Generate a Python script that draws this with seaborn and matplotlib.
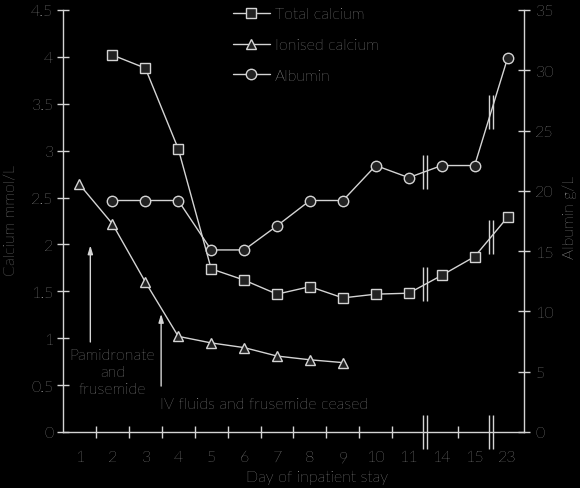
import matplotlib
matplotlib.use("Agg")
import matplotlib.pyplot as plt
import matplotlib.transforms as mtransforms
import seaborn as sns
import numpy as np
import pandas as pd

# category labels along the x axis (days, with breaks after 11 and 15)
days = ["1", "2", "3", "4", "5", "6", "7", "8", "9", "10", "11", "14", "15", "23"]

total_days = ["2", "3", "4", "5", "6", "7", "8", "9", "10", "11", "14", "15", "23"]
total_calcium = [4.02, 3.88, 3.02, 1.74, 1.62, 1.47, 1.55, 1.43, 1.47, 1.48, 1.67, 1.87, 2.29]

ionised_days = ["1", "2", "3", "4", "5", "6", "7", "8", "9"]
ionised_calcium = [2.64, 2.22, 1.60, 1.02, 0.95, 0.90, 0.81, 0.77, 0.74]

albumin_days = ["2", "3", "4", "5", "6", "7", "8", "9", "10", "11", "14", "15", "23"]
albumin = [19.2, 19.2, 19.2, 15.1, 15.1, 17.1, 19.2, 19.2, 22.1, 21.1, 22.1, 22.1, 31.0]

left_ticks = [0, 0.5, 1, 1.5, 2, 2.5, 3, 3.5, 4, 4.5]
left_ticklabels = ["0", "0.5", "1", "1.5", "2", "2.5", "3", "3.5", "4", "4.5"]
right_ticks = [0, 5, 10, 15, 20, 25, 30, 35]

FG = "#d4d4d4"
TXT = "#ececec"
BG = "black"
FILL = "#222222"

sns.set_style("ticks")
plt.rcParams["font.family"] = ["Lato", "DejaVu Sans"]
plt.rcParams["font.weight"] = "light"
plt.rcParams["axes.labelweight"] = "light"

df_total = pd.DataFrame({"pos": [days.index(d) for d in total_days], "val": total_calcium})
df_ion = pd.DataFrame({"pos": [days.index(d) for d in ionised_days], "val": ionised_calcium})
df_alb = pd.DataFrame({"pos": [days.index(d) for d in albumin_days], "val": albumin})

fig = plt.figure(figsize=(5.8, 4.89), dpi=100, facecolor=BG)
ax = fig.add_axes([63 / 580, 56 / 489, 461 / 580, 422 / 489])
ax.set_facecolor(BG)
ax2 = ax.twinx()

line_kw = dict(color=FG, linewidth=1.0, markersize=7.5, markerfacecolor=FILL,
               markeredgecolor=FG, markeredgewidth=1.0, legend=False)
sns.lineplot(data=df_total, x="pos", y="val", ax=ax, marker="s", label="Total calcium", **line_kw)
sns.lineplot(data=df_ion, x="pos", y="val", ax=ax, marker="^", label="Ionised calcium", **line_kw)
sns.lineplot(data=df_alb, x="pos", y="val", ax=ax2, marker="o", label="Albumin", **line_kw)

n = len(days)
ax.set_xlim(-0.5, n - 0.5)
ax.set_ylim(0, 4.5)
ax2.set_ylim(0, 35)

# axis breaks after day 11 and day 15
breaks = [days.index("11") + 0.5, days.index("15") + 0.5]
ax.set_xticks(range(n))
ax.set_xticklabels(days)
ax.set_xticks([i + 0.5 for i in range(n - 1) if i + 0.5 not in breaks], minor=True)

for a in (ax, ax2):
    for s in a.spines.values():
        s.set_color(FG)
        s.set_linewidth(1.0)
    a.spines["top"].set_visible(False)
ax.spines["right"].set_visible(False)
ax2.spines["left"].set_visible(False)
ax2.spines["bottom"].set_visible(False)

ax.set_yticks(left_ticks)
ax.set_yticklabels(left_ticklabels)
ax2.set_yticks(right_ticks)
ax.tick_params(axis="y", direction="inout", length=8, width=1, color=FG, labelcolor=TXT,
               labelsize=11.5, pad=3)
ax2.tick_params(axis="y", direction="inout", length=8, width=1, color=FG, labelcolor=TXT,
                labelsize=11.5, pad=4)
ax.tick_params(axis="x", which="major", length=0, labelcolor=TXT, labelsize=11.5, pad=13)
ax.tick_params(axis="x", which="minor", direction="inout", length=9, width=1, color=FG)

ax.set_xlabel("Day of inpatient stay", color=TXT, fontsize=11.5)
ax.xaxis.set_label_coords((317 - 63) / 461, (433 - 471) / 422)
ax.set_ylabel("Calcium mmol/L", color=TXT, fontsize=11.5)
ax.yaxis.set_label_coords((18 - 63) / 461, (433 - 221) / 422)
ax2.set_ylabel("Albumin g/L", color=TXT, fontsize=11.5, rotation=90)
ax2.yaxis.set_label_coords((562 - 63) / 461, (433 - 217) / 422)


def break_mark(axis, x, y, coord_trans):
    for dx in (-2.2, 2.2):
        tr = mtransforms.offset_copy(coord_trans, fig=fig, x=dx, y=0, units="dots")
        axis.plot([x], [y], marker="|", markersize=25, markeredgewidth=1.0,
                  color=FG, transform=tr, clip_on=False, zorder=5)


def mid_value(xs, ys, xb):
    return float(np.interp(xb, xs, ys))


for xb in breaks:
    break_mark(ax, xb, 0, ax.get_xaxis_transform())
    break_mark(ax, xb, mid_value(df_total["pos"], df_total["val"], xb), ax.transData)
    break_mark(ax2, xb, mid_value(df_alb["pos"], df_alb["val"], xb), ax2.transData)

# annotations
arrow = dict(arrowstyle="-|>,head_length=0.5,head_width=0.15", color=FG, lw=1.0)
ax.annotate("", xy=(0.33, 2.02), xytext=(0.33, 0.93), arrowprops=arrow)
ax.text(1.0, 0.64, "Pamidronate\nand\nfrusemide", color=TXT, fontsize=11.5,
        ha="center", va="center", linespacing=1.25)
ax.annotate("", xy=(2.48, 1.29), xytext=(2.48, 0.46), arrowprops=arrow)
ax.text(2.45, 0.30, "IV fluids and frusemide ceased", color=TXT, fontsize=11.5,
        ha="left", va="center")

handles = ax.get_lines()[:2] + ax2.get_lines()[:1]
leg = ax.legend(handles, [h.get_label() for h in handles], loc="upper left",
                bbox_to_anchor=((233 - 63) / 461, (433 - 8) / 422), frameon=False,
                fontsize=11.5, handlelength=2.3, handletextpad=0.3, labelspacing=1.05,
                borderpad=0, borderaxespad=0)
for t in leg.get_texts():
    t.set_color(TXT)

fig.savefig("out.png", dpi=100, facecolor=BG)
